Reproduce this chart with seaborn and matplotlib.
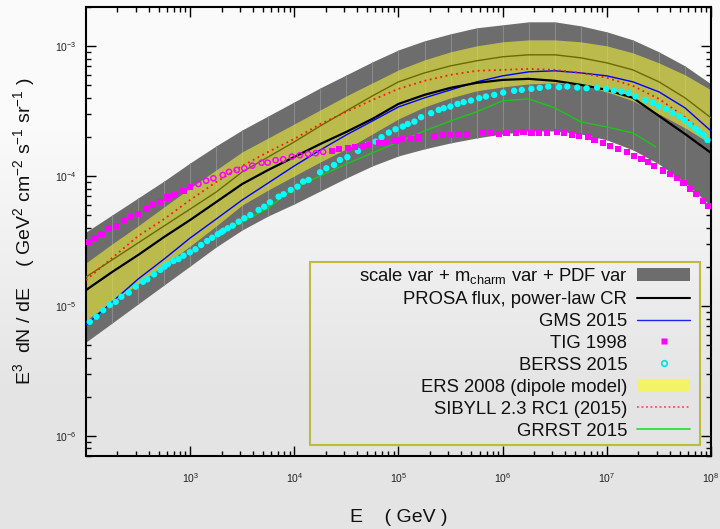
import numpy as np
import pandas as pd
import matplotlib
matplotlib.use("Agg")
import matplotlib.pyplot as plt
import seaborn as sns
from matplotlib.patches import Patch, Rectangle
from matplotlib.lines import Line2D
from matplotlib.colors import LinearSegmentedColormap
from matplotlib.ticker import FixedLocator, LogLocator, NullFormatter, LogFormatterSciNotation

# ---------------- data (log10 E [GeV], log10 E^3 dN/dE) ----------------
grid_log10E = [2.0, 2.25, 2.5, 2.75, 3.0, 3.25, 3.5, 3.75, 4.0, 4.25, 4.5, 4.75, 5.0,
               5.25, 5.5, 5.75, 6.0, 6.25, 6.5, 6.75, 7.0, 7.25, 7.5, 7.75, 8.0]

band_hi_log10 = [-4.431, -4.300, -4.169, -4.038, -3.899, -3.768, -3.645, -3.537, -3.429, -3.321,
                 -3.221, -3.121, -3.029, -2.959, -2.905, -2.859, -2.836, -2.813, -2.813, -2.844,
                 -2.890, -2.952, -3.044, -3.152, -3.291]
band_lo_log10 = [-5.278, -5.132, -4.985, -4.839, -4.693, -4.546, -4.415, -4.307, -4.215, -4.115,
                 -4.015, -3.922, -3.845, -3.791, -3.745, -3.707, -3.676, -3.653, -3.653, -3.676,
                 -3.722, -3.799, -3.907, -4.053, -4.230]
ers_hi_log10 = [-4.669, -4.523, -4.384, -4.238, -4.092, -3.953, -3.814, -3.707, -3.599, -3.491,
                -3.383, -3.283, -3.183, -3.106, -3.044, -2.998, -2.967, -2.952, -2.952, -2.967,
                -2.998, -3.052, -3.129, -3.221, -3.337]
ers_lo_log10 = [-5.109, -4.970, -4.831, -4.685, -4.539, -4.384, -4.223, -4.107, -3.999, -3.891,
                -3.791, -3.676, -3.560, -3.468, -3.398, -3.344, -3.314, -3.291, -3.283, -3.298,
                -3.352, -3.421, -3.522, -3.629, -3.753]
ers_mid_log10 = [-4.777, -4.646, -4.515, -4.384, -4.254, -4.123, -3.968, -3.853, -3.737, -3.614,
                 -3.498, -3.383, -3.275, -3.206, -3.152, -3.113, -3.082, -3.067, -3.067, -3.090,
                 -3.129, -3.183, -3.275, -3.398, -3.552]
prosa_log10 = [-4.878, -4.739, -4.608, -4.469, -4.338, -4.200, -4.061, -3.953, -3.853, -3.753,
               -3.660, -3.560, -3.445, -3.375, -3.321, -3.283, -3.260, -3.252, -3.267, -3.298,
               -3.337, -3.398, -3.537, -3.676, -3.822]
gms_log10 = [-5.147, -4.970, -4.793, -4.639, -4.477, -4.331, -4.184, -4.053, -3.922, -3.799,
             -3.683, -3.576, -3.468, -3.398, -3.337, -3.275, -3.229, -3.198, -3.190, -3.206,
             -3.229, -3.275, -3.352, -3.475, -3.653]
sibyll_log10 = [-4.801, -4.631, -4.462, -4.331, -4.184, -4.046, -3.922, -3.814, -3.714, -3.599,
                -3.506, -3.414, -3.329, -3.267, -3.221, -3.190, -3.183, -3.175, -3.183, -3.206,
                -3.244, -3.306, -3.406, -3.545, -3.722]

grrst_log10E = [3.22, 3.5, 3.75, 4.0, 4.25, 4.5, 4.75, 5.0, 5.25, 5.5, 5.75, 6.0, 6.25, 6.5,
                6.75, 7.0, 7.25, 7.47]
grrst_log10 = [-4.469, -4.354, -4.246, -4.092, -3.999, -3.907, -3.822, -3.737, -3.653, -3.576,
               -3.506, -3.421, -3.406, -3.475, -3.583, -3.622, -3.668, -3.776]

berss_log10E = [2.036, 2.100, 2.165, 2.228, 2.285, 2.340, 2.410, 2.477, 2.547, 2.589,
                2.653, 2.713, 2.754, 2.787, 2.840, 2.888, 2.936, 2.997, 3.051, 3.105,
                3.163, 3.211, 3.265, 3.297, 3.319, 3.361, 3.409, 3.466, 3.520, 3.577,
                3.657, 3.711, 3.766, 3.849, 3.897, 3.966, 4.031, 4.084, 4.136, 4.247,
                4.308, 4.381, 4.438, 4.509, 4.611, 4.701, 4.780, 4.837, 4.907, 4.971,
                5.041, 5.089, 5.153, 5.217, 5.313, 5.386, 5.434, 5.498, 5.567, 5.625,
                5.696, 5.775, 5.839, 5.919, 6.005, 6.110, 6.184, 6.276, 6.356, 6.438,
                6.541, 6.620, 6.716, 6.806, 6.907, 6.993, 7.067, 7.141, 7.211, 7.275,
                7.370, 7.440, 7.498, 7.568, 7.632, 7.696, 7.744, 7.794, 7.849, 7.887,
                7.928, 7.966]
berss_log10 = [-5.122, -5.083, -5.032, -4.993, -4.968, -4.929, -4.898, -4.852, -4.814, -4.795,
               -4.757, -4.723, -4.698, -4.677, -4.654, -4.639, -4.613, -4.587, -4.564, -4.531,
               -4.500, -4.475, -4.448, -4.433, -4.421, -4.402, -4.382, -4.351, -4.325, -4.300,
               -4.261, -4.236, -4.202, -4.159, -4.140, -4.107, -4.082, -4.043, -4.030, -3.971,
               -3.940, -3.915, -3.876, -3.855, -3.807, -3.760, -3.735, -3.701, -3.666, -3.640,
               -3.619, -3.599, -3.581, -3.547, -3.516, -3.491, -3.478, -3.465, -3.445, -3.431,
               -3.419, -3.401, -3.388, -3.375, -3.358, -3.344, -3.337, -3.329, -3.321, -3.311,
               -3.316, -3.311, -3.319, -3.324, -3.319, -3.331, -3.342, -3.350, -3.362, -3.388,
               -3.414, -3.435, -3.460, -3.485, -3.516, -3.537, -3.568, -3.599, -3.632, -3.658,
               -3.683, -3.722]

tig_sq_low_log10E = [2.019, 2.081, 2.148, 2.218, 2.285, 2.362, 2.429, 2.500, 2.576, 2.643,
                     2.713, 2.783, 2.856, 2.936, 3.000]
tig_sq_low_log10 = [-4.505, -4.475, -4.448, -4.402, -4.384, -4.338, -4.313, -4.292, -4.254, -4.223,
                    -4.197, -4.166, -4.146, -4.115, -4.082]
tig_ring_log10E = [3.079, 3.153, 3.223, 3.313, 3.373, 3.447, 3.520, 3.596, 3.686, 3.744,
                   3.820, 3.893, 3.976, 4.053, 4.132, 4.206, 4.276]
tig_ring_log10 = [-4.061, -4.036, -4.017, -3.992, -3.968, -3.953, -3.940, -3.920, -3.897, -3.897,
                  -3.878, -3.871, -3.851, -3.840, -3.830, -3.824, -3.814]
tig_sq_high_log10E = [4.359, 4.429, 4.512, 4.584, 4.656, 4.718, 4.818, 4.890, 4.971, 5.035,
                      5.122, 5.191, 5.338, 5.424, 5.495, 5.577, 5.657, 5.807, 5.887, 5.967,
                      6.036, 6.126, 6.199, 6.276, 6.349, 6.423, 6.519, 6.589, 6.662, 6.732,
                      6.818, 6.882, 6.962, 7.029, 7.105, 7.194, 7.258, 7.332, 7.395, 7.456,
                      7.539, 7.610, 7.673, 7.737, 7.801, 7.858, 7.922, 7.976]
tig_sq_high_log10 = [-3.807, -3.791, -3.784, -3.776, -3.768, -3.760, -3.747, -3.737, -3.727, -3.717,
                     -3.717, -3.704, -3.691, -3.683, -3.683, -3.678, -3.676, -3.663, -3.670, -3.676,
                     -3.670, -3.670, -3.663, -3.666, -3.670, -3.666, -3.663, -3.670, -3.681, -3.691,
                     -3.697, -3.722, -3.743, -3.766, -3.791, -3.812, -3.843, -3.868, -3.889, -3.922,
                     -3.958, -3.986, -4.017, -4.056, -4.099, -4.140, -4.190, -4.230]

legend_labels = ["scale var + m$_{\\mathrm{charm}}$ var + PDF var",
                 "PROSA flux, power-law CR",
                 "GMS 2015",
                 "TIG 1998",
                 "BERSS 2015",
                 "ERS 2008 (dipole model)",
                 "SIBYLL 2.3 RC1 (2015)",
                 "GRRST 2015"]

# ---------------- style ----------------
sns.set_theme(style="ticks")
plt.rcParams["font.family"] = ["Liberation Sans", "DejaVu Sans"]
plt.rcParams["mathtext.fontset"] = "custom"
plt.rcParams["mathtext.rm"] = "Liberation Sans"
plt.rcParams["mathtext.it"] = "Liberation Sans:italic"
plt.rcParams["mathtext.bf"] = "Liberation Sans:bold"

def p10(a):
    return np.power(10.0, np.asarray(a, dtype=float))

E = p10(grid_log10E)
grid = pd.DataFrame({
    "E": E,
    "hi": p10(band_hi_log10), "lo": p10(band_lo_log10),
    "ers_hi": p10(ers_hi_log10), "ers_lo": p10(ers_lo_log10), "ers_mid": p10(ers_mid_log10),
    "prosa": p10(prosa_log10), "gms": p10(gms_log10), "sibyll": p10(sibyll_log10),
})
grrst = pd.DataFrame({"E": p10(grrst_log10E), "f": p10(grrst_log10)})
berss = pd.DataFrame({"E": p10(berss_log10E), "f": p10(berss_log10)})
tig_lo = pd.DataFrame({"E": p10(tig_sq_low_log10E), "f": p10(tig_sq_low_log10)})
tig_ring = pd.DataFrame({"E": p10(tig_ring_log10E), "f": p10(tig_ring_log10)})
tig_hi = pd.DataFrame({"E": p10(tig_sq_high_log10E), "f": p10(tig_sq_high_log10)})

fig = plt.figure(figsize=(7.2, 5.29), dpi=100)

# background gradient
bg = fig.add_axes([0, 0, 1, 1], zorder=-10)
cmap = LinearSegmentedColormap.from_list("bg", ["#e4e4e4", "#fafafa"])
bg.imshow([[1.0], [0.0]], cmap=cmap, aspect="auto", extent=[0, 1, 0, 1],
          interpolation="bilinear", vmin=0, vmax=1)
bg.set_axis_off()

ax = fig.add_axes([86 / 720, 1 - 456 / 529, 625 / 720, 449 / 529])
ax.set_facecolor("none")
ax.set_xscale("log")
ax.set_yscale("log")

GRAY = "#6d6d6d"
YEL = "#ecec3a"

ax.fill_between(grid["E"], grid["lo"], grid["hi"], color=GRAY, lw=0, zorder=1)
ax.vlines(grid["E"].iloc[1:-1], grid["lo"].iloc[1:-1], grid["hi"].iloc[1:-1],
          color="#8a8a8a", lw=0.8, zorder=1.2)
ax.fill_between(grid["E"], grid["ers_lo"], grid["ers_hi"], color=YEL, alpha=0.62, lw=0, zorder=2)

sns.lineplot(data=grid, x="E", y="ers_mid", color="#6a6a00", lw=1.0, ax=ax,
             estimator=None, sort=False, zorder=3, legend=False)
sns.lineplot(data=grrst, x="E", y="f", color="#19c819", lw=1.0, ax=ax,
             estimator=None, sort=False, zorder=3.5, legend=False)
sns.lineplot(data=grid, x="E", y="gms", color="#0000ff", lw=1.0, ax=ax,
             estimator=None, sort=False, zorder=4, legend=False)
sns.lineplot(data=grid, x="E", y="prosa", color="black", lw=1.6, ax=ax,
             estimator=None, sort=False, zorder=4.2, legend=False)
sns.lineplot(data=grid, x="E", y="sibyll", color="#ff1a00", lw=1.3, ax=ax,
             estimator=None, sort=False, zorder=4.4, legend=False, linestyle=(0, (1, 2)))

sns.scatterplot(data=berss, x="E", y="f", color="#00ffff", s=21, marker="o",
                edgecolor="none", ax=ax, zorder=5, legend=False)
sns.scatterplot(data=tig_lo, x="E", y="f", color="#ff00ff", s=20, marker="s",
                edgecolor="none", ax=ax, zorder=5, legend=False)
sns.scatterplot(data=tig_hi, x="E", y="f", color="#ff00ff", s=20, marker="s",
                edgecolor="none", ax=ax, zorder=5, legend=False)
sns.scatterplot(data=tig_ring, x="E", y="f", facecolor="none", edgecolor="#ff00ff",
                s=14, marker="o", linewidth=1.1, ax=ax, zorder=5, legend=False)

ax.set_xlim(1e2, 1e8)
ax.set_ylim(7e-7, 2e-3)

# ticks
ax.xaxis.set_major_locator(FixedLocator([1e3, 1e4, 1e5, 1e6, 1e7, 1e8]))
ax.xaxis.set_minor_locator(LogLocator(base=10, subs=(2, 3, 4, 5, 6, 7, 8, 9), numticks=20))
ax.yaxis.set_major_locator(FixedLocator([1e-6, 1e-5, 1e-4, 1e-3]))
ax.yaxis.set_minor_locator(LogLocator(base=10, subs=(2, 3, 4, 5, 6, 7, 8, 9), numticks=20))
ax.xaxis.set_major_formatter(LogFormatterSciNotation())
ax.yaxis.set_major_formatter(LogFormatterSciNotation())
ax.xaxis.set_minor_formatter(NullFormatter())
ax.yaxis.set_minor_formatter(NullFormatter())
ax.tick_params(which="both", direction="in", top=True, right=True, colors="black", width=1.0)
ax.tick_params(which="major", length=7.5)
ax.tick_params(which="minor", length=3.8)
ax.tick_params(axis="x", which="major", pad=11, labelsize=7.5, labelcolor="#222222")
ax.tick_params(axis="y", which="major", pad=7, labelsize=7.5, labelcolor="#222222")
for sp in ax.spines.values():
    sp.set_color("black")
    sp.set_linewidth(1.5)
    sp.set_visible(True)

ax.set_xlabel("E    ( GeV )", fontsize=14, va="center", color="#111111")
ax.xaxis.set_label_coords(0.5, (456 - 518) / 449)
ax.set_ylabel("E$^{3}$  dN / dE    ( GeV$^{2}$ cm$^{-2}$ s$^{-1}$ sr$^{-1}$ )",
              fontsize=14, va="center", color="#111111")
ax.yaxis.set_label_coords((24 - 86) / 625, 0.5)

# legend
handles = [
    Patch(facecolor=GRAY, edgecolor="none"),
    Line2D([], [], color="black", lw=1.5),
    Line2D([], [], color="#2020ff", lw=1.0),
    Line2D([], [], ls="none", marker="s", ms=4, mfc="#ff00ff", mec="none"),
    Line2D([], [], ls="none", marker="o", ms=4, mfc="none", mec="#00e0e0", mew=1.2),
    Patch(facecolor="#f3f368", edgecolor="none"),
    Line2D([], [], color="#ff5050", lw=1.3, linestyle=(0, (1, 1.5))),
    Line2D([], [], color="#33dd33", lw=1.3),
]
leg = ax.legend(handles, legend_labels, loc="upper right",
                bbox_to_anchor=((690 - 86) / 625, (456 - 266) / 449),
                frameon=False, markerfirst=False, borderpad=0, borderaxespad=0,
                handlelength=2.85, handletextpad=0.55, labelspacing=0.27, fontsize=13.3)
for t in leg.get_texts():
    t.set_color("#111111")
leg.set_zorder(7)
ax.add_patch(Rectangle(((310 - 86) / 625, (456 - 445) / 449), 390 / 625, 183 / 449,
                       transform=ax.transAxes, fill=False, edgecolor="#bcbc3c",
                       lw=1.5, zorder=6, clip_on=False))

fig.savefig("out.png", dpi=100)
